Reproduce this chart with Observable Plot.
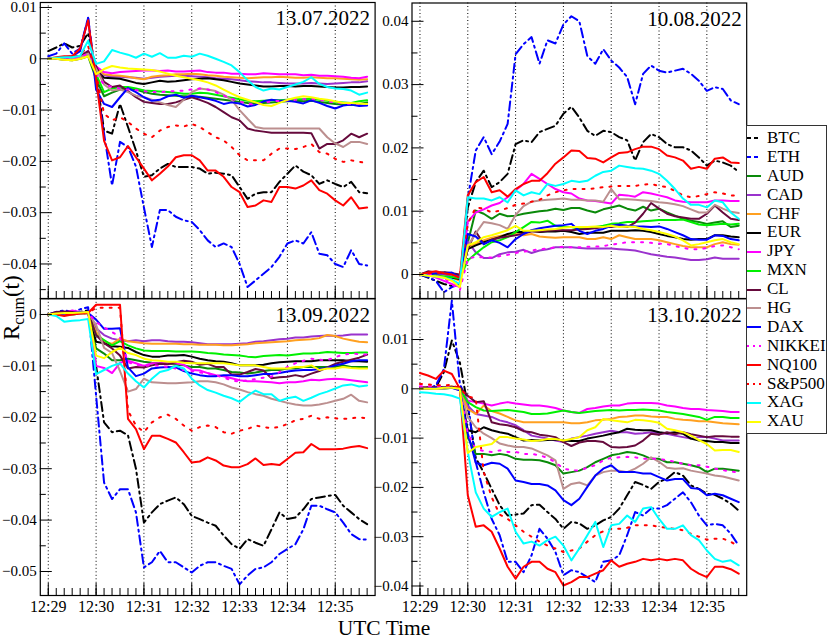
<!DOCTYPE html>
<html><head><meta charset="utf-8">
<script src="https://cdn.jsdelivr.net/npm/d3@7"></script>
<script src="https://cdn.jsdelivr.net/npm/@observablehq/plot@0.6"></script>
<style>
body{margin:0;background:#fff;}
#wrap{position:relative;width:830px;height:638px;background:#fff;font-family:"Liberation Serif",serif;overflow:hidden;}
.panel{position:absolute;}
#legend{position:absolute;left:746px;top:125px;width:81px;height:309px;border:1.5px solid #333;background:#fff;box-sizing:border-box;padding-top:3px;}
.row{height:18.9px;display:flex;align-items:center;font-family:"Liberation Serif",serif;font-size:17px;line-height:18.9px;color:#000;}
.row svg{width:14px;height:10px;margin-right:6px;flex:none;}
</style></head><body><div id="wrap"></div>
<script>
// ---- tick labels / categories ----
const timeLabels = ["12:29","12:30","12:31","12:32","12:33","12:34","12:35"];
const minuteTicks = [0,60,120,180,240,300,360]; // seconds after 12:29:00
const seriesNames = ["BTC","ETH","AUD","CAD","CHF","EUR","JPY","MXN","CL","HG","DAX","NIKKEI","NQ100","S&P500","XAG","XAU"];
const dates = ["13.07.2022","10.08.2022","13.09.2022","13.10.2022"];
// values: cumulative return in units of 1e-3, every 10 s from 12:29:00 to 12:35:40

// ---- 13.07.2022 ----
const jul_BTC = [1.5,2.2,3,2.2,2.5,5,-3,-14,-14.6,-8.8,-13.3,-17.9,-23,-22.7,-21.4,-20.5,-21.1,-21.1,-21.1,-21.4,-22.4,-22.2,-22.4,-22.7,-25,-27.3,-26.3,-26,-26,-24,-22.4,-20.8,-22,-22.7,-24.4,-23.7,-24.4,-25,-24,-26,-26.2];
const jul_ETH = [0.5,1,3,1,2,8,-4,-14.6,-24.7,-16.2,-17.2,-21,-29,-36.7,-29.5,-29.5,-30.8,-31.5,-31.8,-33.4,-35.4,-36.7,-36,-36.7,-40,-44.5,-43.2,-41.9,-40.6,-38.6,-36,-35.4,-36,-33.8,-38,-38.3,-40,-40.6,-37.3,-40,-40.3];
const jul_AUD = [0,0,-0.2,-0.3,0,0.5,-4,-7.3,-6.6,-6,-5.7,-6,-6.5,-6.8,-7,-7.1,-7.2,-7.3,-7.3,-7.4,-7.6,-7.8,-8,-8.2,-8.4,-8.6,-8.7,-8.6,-8.5,-8.4,-8.3,-8.2,-8.3,-8.2,-8.4,-8.6,-8.8,-8.9,-9,-8.8,-8.5];
const jul_CAD = [0,0,0,0,0.3,1,-1.5,-3.2,-3.5,-3.5,-3.6,-3.7,-3.9,-3.7,-3.5,-3.4,-3.3,-3.3,-3.4,-3.5,-3.6,-3.8,-3.9,-4,-4.2,-4.4,-4.5,-4.6,-4.6,-4.7,-4.8,-4.8,-4.8,-4.7,-4.8,-4.9,-4.8,-4.7,-4.6,-4.6,-4.4];
const jul_CHF = [0,0,-0.2,-0.3,0,0.5,-1.5,-3,-3.2,-3.3,-3.5,-3.8,-4,-3.5,-3.3,-3.2,-3,-3,-2.9,-3,-3.2,-3.3,-3.5,-3.6,-3.7,-3.8,-3.7,-3.6,-3.6,-3.5,-3.6,-3.7,-3.7,-3.6,-3.7,-3.8,-3.8,-3.9,-4,-4.1,-4];
const jul_EUR = [0,0,0,0,0.2,1,-2.3,-3.7,-3.8,-3.9,-4.3,-4.7,-4.9,-4.6,-4.3,-4.5,-4.4,-4.2,-4,-3.9,-3.8,-4,-4.2,-4.5,-4.8,-5,-5.2,-5.4,-5.4,-5.3,-5.3,-5.4,-5.3,-5.3,-5.4,-5.5,-5.6,-5.6,-5.5,-5.5,-5.4];
const jul_JPY = [0,0,0,0,0.2,1.5,-1.5,-2.6,-2.8,-2.6,-2.5,-2.4,-2.3,-2.3,-2.4,-2.3,-2.5,-2.5,-2.4,-2.3,-2.6,-2.7,-2.7,-2.9,-2.9,-3,-3,-2.8,-2.9,-3,-3,-3,-3.2,-3.1,-3.3,-3.3,-3.4,-3.5,-3.7,-3.8,-3.5];
const jul_MXN = [0,0,0,0,0.2,1,-3,-6.5,-5.8,-5.5,-5.5,-5.8,-6.2,-6.3,-6.4,-6.5,-6.6,-6.8,-6.8,-6.6,-6.7,-7,-7.3,-7.6,-7.9,-8.2,-8.3,-8.2,-8.1,-8.1,-8,-7.9,-7.9,-7.8,-8,-8.2,-8.4,-8.5,-8.6,-8.3,-8.1];
const jul_CL = [0,0,0.2,0.2,0.5,1.5,-1.5,-4.5,-5.5,-5.2,-6.3,-7.5,-8.4,-8.6,-8.8,-8.8,-8.5,-8,-7.5,-8,-8.6,-9.4,-10.4,-11.4,-12,-13.6,-14,-14.2,-14.4,-14.4,-14.4,-14.4,-14.4,-14.5,-17.5,-16.6,-16.6,-15.9,-14.6,-15.3,-14.6];
const jul_HG = [0,0,0,0,0.3,1,-2,-5,-6.2,-6,-6.5,-7.2,-7.5,-8,-8.5,-9,-9.4,-8,-6.5,-5.8,-6,-6.3,-7,-8,-10,-11.7,-13.3,-13.6,-13.6,-13.6,-13.6,-13.6,-13.6,-13.6,-13.6,-15.3,-16.5,-17.2,-16.2,-16.2,-16.6];
const jul_DAX = [0,0,0.3,0.5,1.5,8,-6,-8.8,-9.4,-7.5,-5.7,-6.5,-7.5,-8.2,-8,-7.3,-7,-7.6,-7.2,-7.5,-7.8,-8.2,-8.8,-8.5,-8.7,-9.3,-9,-8.3,-8,-8.2,-8.2,-8.4,-8.7,-8.1,-8.6,-9.2,-9.7,-9.1,-8.9,-9.2,-9.1];
const jul_NIKKEI = [0,0,0,0,0.3,1,-3,-5,-5.5,-5.8,-6,-6.1,-6.3,-6.5,-6.5,-6.4,-6.3,-6.2,-6,-5.8,-6,-6.5,-7.2,-7.8,-8.3,-8.8,-8.9,-8.6,-8.3,-8.2,-8.1,-8,-7.9,-7.8,-8,-8.3,-8.5,-8.7,-8.8,-8.8,-8.8];
const jul_NQ100 = [0,0.3,0.5,0.5,2,7.5,-4,-16,-19.8,-19.2,-17,-19.2,-21.4,-23.7,-22.4,-21,-19.2,-18.8,-18.8,-19.8,-21.8,-21.8,-23,-25,-26,-28.9,-28.6,-27.6,-27.9,-25,-25,-25.3,-24.7,-23.7,-25.6,-26.3,-27.6,-28.6,-27,-29.2,-29];
const jul_SP500 = [0,0.2,0.3,0.3,0.8,2.5,-3,-10.7,-12,-11.4,-12.3,-13.6,-14.6,-15.3,-14,-13.3,-13,-13.2,-12.7,-13.3,-14.3,-15.3,-15.9,-17.2,-18.8,-19.8,-19.8,-19.8,-18.5,-17.5,-17.5,-17.6,-17.2,-16.6,-18.2,-18.5,-19.5,-20.1,-19.8,-20.1,-20.3];
const jul_XAG = [0,0.2,0.3,0.3,0.6,3.5,-1,-0.5,1.7,1.2,0.8,0.2,1,0.4,1.1,0.2,0.2,0.6,0.4,1,0.6,0,-0.6,-1.3,-2.6,-4.2,-5.5,-6.2,-5.8,-6,-5.5,-5,-4.5,-3.6,-4.9,-5.5,-5.8,-5.9,-6.2,-7,-6.6];
const jul_XAU = [0,0,-0.2,-0.3,0,0.5,-3,-2,-1.4,-1.7,-1.9,-2,-2.1,-2.2,-2.5,-2.9,-3.3,-3.6,-3.9,-4.2,-4.6,-5.2,-6,-6.8,-7.5,-8,-8.5,-9,-9.2,-8.6,-8,-7.6,-7.3,-7.5,-7.8,-8,-8.3,-8.6,-8.6,-8.7,-8.8];

// ---- 10.08.2022 ----
const aug_BTC = [0,-0.5,-1,-1.5,-1.8,-1.5,10.6,14.6,16.4,13.8,14.6,15.9,20.6,21.2,20.9,22.5,23,23.5,25.4,26.5,24.8,22.7,21.9,22.7,22.5,21.7,21.2,18,20.9,22.2,21.7,20.6,20.1,20.1,19.6,18.5,17.2,18,17.7,17.2,16.2];
const aug_ETH = [0,-0.4,-1,-2.8,-2,-1.5,12,19.6,21.7,19,21,23.8,34.8,36.4,37.5,33.3,37,36.5,39.5,40.8,40,34.5,33.3,35.6,33.8,32.7,31.2,26.9,31.7,33,32.2,31.9,32.2,32.5,31.7,30.6,29,29.6,29.3,27.5,26.9];
const aug_AUD = [0,0.3,0,0.2,0,-0.3,5,10.1,9.6,8.8,9.6,9.2,9.3,9.6,9.8,10,10.1,10.4,10.2,10.5,10.5,10.1,9.8,10.3,10.6,10.9,10.4,10.1,10.7,10.1,10.4,9.8,9.3,8.8,8.5,8.3,8,8.2,8.4,7.5,7.7];
const aug_CAD = [0,0.3,0.2,0,-0.3,-0.8,5.2,3.5,2.6,2.6,3.2,3.5,3.6,3.9,3.4,3.8,4,4.3,4.3,4.3,4.2,4.1,4.1,4.1,4.1,4,3.9,3.8,3.5,3.2,3,2.8,2.7,2.5,2.3,2.3,2.4,2.7,2.5,2.5,2.5];
const aug_CHF = [0,0,-0.2,-0.3,-0.5,-1,4.3,4.9,5.4,5.8,6.1,6.3,6.4,6.2,6.4,6,5.9,5.8,5.9,5.9,5.9,5.6,5.6,5.9,5.6,6.2,5.9,5.6,5.6,5.6,5.4,5.1,4.8,4.5,4.3,4.3,4.3,4.8,5.1,4.8,4.7];
const aug_EUR = [0,-0.2,-0.3,-0.4,-0.5,-0.7,4,4.6,5.1,5.5,5.9,6.4,6.7,6.7,6.9,6.7,6.8,6.8,6.9,6.7,6.4,6.6,6.6,6.6,6.9,6.9,6.9,7,6.9,6.7,6.4,6.1,5.9,5.6,5.5,5.6,5.6,6.2,6.2,6,5.9];
const aug_JPY = [0,0,-0.5,-1,-1.5,-2,8.3,9.8,10.3,10.9,11.3,12.2,13.3,14.3,15.9,15.1,14.3,13.5,13,12.8,12,11.7,11.6,11.4,11.2,12.6,12.5,12.3,13,12.8,12.5,12.2,11.7,11.5,11.4,11.4,11.4,11.7,11.7,11.6,11.6];
const aug_MXN = [0,0,-0.2,-0.3,-0.4,-0.6,2.2,3.3,4.3,5.1,5.4,5.9,6.7,7.5,8.3,8.2,8.5,7.7,7.5,7.5,7.2,7.2,7.5,7.7,8,8.1,8.3,8.3,8.4,8.5,8.6,8.6,8.6,8.7,8.3,7.9,7.8,7.9,8,7.9,8];
const aug_CL = [0,0.5,0.3,0.4,0.2,0,4,6.8,4.8,5.5,5.8,6,6.2,6.5,6.8,6.8,6.9,7,7,7,7.1,7.2,7.3,7.5,7.5,7.7,7.5,8.2,9.6,11.3,10.4,9.6,9.2,9,8.8,8.8,9.6,10.9,9.8,8.8,8.6];
const aug_HG = [0,0.2,0.3,0.3,0,-0.5,4.5,6.5,8.3,8.1,7.8,7.2,9.4,10.8,11.5,11.7,11.8,11.9,12,11.8,11.8,11.7,11.7,11.5,13.5,11.9,11.9,11.8,11.7,11.6,11.4,11.3,11.1,10.8,10.3,9.8,9.8,11,10.4,9.9,9.7];
const aug_DAX = [0,0,0.2,0.2,0.3,-0.5,6.4,6,4.8,5.4,5,4.3,5.6,6.4,7,7.3,7.5,7.7,7.8,8,6.9,6.4,6.9,7.2,7.7,7.9,7.7,7.6,7.6,7.5,7.6,7.2,6.7,6.2,5.6,5.5,5.5,6.2,6.1,5.6,5.4];
const aug_NIKKEI = [0,0,-0.2,-0.5,-1.5,-2.5,2.5,2.8,2.7,2.7,2.9,3.1,3.4,3.6,3.8,4,4.1,4.3,4.4,4.3,4.3,4.4,4.4,4.5,4.7,4.9,5.1,5.1,5.1,5,4.9,4.8,4.5,4.2,4,4,4.2,4.5,4.6,4.3,4];
const aug_NQ100 = [0,0.3,0.5,0.2,0,-0.5,12.5,14.6,15.4,13,13.3,12.3,13.5,14.3,14.8,14.8,16,17.5,18.5,19.6,19.5,18.4,18.3,17.7,18.5,19.2,19.3,19.8,20.2,20.2,19.8,18.8,18.5,18,16.7,17,16.7,18.3,18.5,17.7,17.6];
const aug_SP500 = [0,0.2,0.3,0.2,0,-0.5,8,10.6,10.4,9.8,10.1,10.5,11,11.2,11.5,11.8,12.5,13,13.3,13.5,13.5,13.5,13.6,13.8,13.9,14,14,14,14.2,14.3,14,13.8,13.2,12.5,12.2,12.4,12.7,13,12.8,12.5,12.5];
const aug_XAG = [0,-0.2,-0.3,-0.5,-0.8,-1.5,12.2,12,12,11.7,12.2,11.4,13.3,12.5,13,12.7,14.3,14,14.3,14.8,14.6,14.8,15.6,16.2,16.4,17.2,17,16.8,16.7,16.4,15.9,14.8,13.5,12,11,11,10.6,11.7,11.4,9.8,8.8];
const aug_XAU = [0,-0.2,-0.3,-0.5,-1,-2,4.6,5.1,5.9,6.2,6.6,7,7.7,6.9,6.9,7,7.1,7.2,7.4,7.5,7.5,7.5,7.6,7.5,7.7,7.5,7.6,7.5,7.2,7,6.7,6.4,6,5.4,4.6,4.8,5.1,5.4,5.6,5.1,4.8];

// ---- 13.09.2022 ----
const sep_BTC = [0,0.3,0.5,0.3,0.5,0.8,-10,-21,-22.9,-22.6,-23.5,-30,-40.5,-38.5,-36.9,-36.2,-35.6,-36.9,-39.2,-39.8,-40.5,-41.1,-43,-44.7,-45.6,-43.7,-44.4,-45,-41.8,-38.5,-39.8,-39.5,-37.9,-35.9,-35.6,-35.3,-35.1,-37.2,-38.5,-39.8,-40.8];
const sep_ETH = [0,0.5,0.8,0.5,1,1.4,-15.8,-32.7,-35.9,-34,-34,-38.5,-49.2,-48.2,-46,-48.2,-48.2,-49.2,-50.2,-48.9,-48.2,-48.2,-48.9,-49.5,-52.5,-50.8,-49.5,-49.2,-48.2,-46.6,-45.6,-44.7,-41.8,-37.2,-37.2,-37.9,-38.5,-40.5,-42.7,-43.7,-43.8];
const sep_AUD = [0,0.2,0.3,0.2,0.3,0.3,-6.6,-7.6,-8.9,-8.9,-8.6,-8.9,-9.2,-9.4,-9.5,-9.5,-9.8,-9.9,-10.2,-10.2,-10.5,-10.5,-10.8,-11.2,-11.3,-11.5,-11.3,-11,-10.8,-10.8,-10.5,-10.5,-10.2,-10.2,-10.2,-10.2,-10.2,-9.9,-10.2,-10.2,-10.2];
const sep_CAD = [0,0.2,0.3,0.2,0.3,0.3,-2.7,-4,-4.7,-5,-5.2,-5,-5.2,-5,-5,-5.2,-5.3,-5.3,-5.4,-5.6,-5.8,-5.8,-5.8,-5.8,-5.7,-5.6,-5.3,-5.2,-5,-4.8,-4.7,-4.5,-4.5,-4.3,-4.2,-4.1,-4.2,-4.1,-3.9,-3.9,-3.9];
const sep_CHF = [0,0,0,0,0.2,0.3,-3.4,-5.3,-5.7,-4.7,-5.2,-5.4,-5.6,-5.7,-5.7,-5.7,-5.7,-5.8,-5.8,-5.9,-5.9,-5.9,-6,-6,-5.9,-5.8,-5.6,-5.5,-5.4,-5.3,-5.2,-5,-4.9,-4.8,-4.6,-4,-4.2,-4.7,-5,-5.3,-5.4];
const sep_EUR = [0,0.2,0.2,0.3,0.3,0.3,-5.3,-5.6,-6.2,-6.3,-6.5,-7.3,-7.9,-8.2,-8.2,-8,-8,-7.9,-8.2,-8.6,-8.9,-9.1,-9.2,-9.5,-9.9,-9.9,-9.9,-9.8,-9.5,-9.3,-9.2,-9.1,-9.1,-9.1,-8.9,-8.9,-8.9,-8.9,-9.1,-9.1,-9.2];
const sep_JPY = [0,0,0.3,0.8,0.5,0.3,-10,-10.4,-11.4,-9.4,-9,-9.5,-10,-9.5,-9.5,-9.5,-9.5,-9.8,-10.8,-10.9,-11.4,-11.8,-12,-12.4,-12.8,-13,-13,-13.1,-13.2,-13.4,-13.2,-13.2,-13,-12.7,-12.8,-12.6,-12.5,-12.6,-12.8,-13,-13.2];
const sep_MXN = [0,0,0,0,0.2,0.3,-4,-5,-6,-5.2,-6,-6.6,-7,-7.1,-7.1,-7.1,-7.2,-7.2,-7.2,-7.3,-7.5,-7.6,-7.8,-7.9,-8,-8.2,-8.3,-8.1,-8,-7.9,-8,-7.8,-7.6,-7.6,-7.5,-7.3,-7.4,-7.5,-7.5,-7.4,-7.4];
const sep_CL = [0,0.5,0.6,0.5,0.3,0.3,-4,-5.6,-6.6,-8,-10.5,-10.2,-10.3,-9.9,-9.6,-9.7,-9.3,-9,-9.2,-9.8,-9.6,-10.2,-10.2,-11.7,-11.7,-11.2,-10.6,-10.9,-12.4,-12.2,-12.1,-11.8,-12.1,-11.5,-11,-10.3,-9.6,-9.2,-8.8,-8.4,-7.8];
const sep_HG = [0,0,0,0,0.2,0.3,-2,-6.5,-7.5,-11,-15,-14.5,-12.5,-13.2,-13.3,-13.4,-13.4,-13.3,-13.2,-13,-13,-13.2,-13.6,-14.2,-14.6,-15.1,-15.5,-15.8,-16.4,-16.8,-17.2,-17.5,-17.7,-17.7,-17.5,-17.2,-16.8,-16.4,-15.6,-16.8,-17.1];
const sep_DAX = [0,0,0.2,0.3,0.5,0.3,-1,-2.8,-2.8,-2.7,-10.3,-12,-11.5,-10.5,-10.3,-10.2,-10.3,-11,-11.5,-11.8,-12,-12,-11.8,-11.8,-12,-12,-11.8,-11.6,-11.6,-11.4,-11.1,-10.9,-10.8,-10.8,-10.6,-10.4,-9.9,-9.6,-9.1,-8.9,-8.9];
const sep_NIKKEI = [0,0,0,0,0.2,0.3,-1.5,-2.5,-3.4,-4.4,-9.3,-9.8,-10,-9.9,-10,-10.2,-10.5,-10.8,-11,-11.3,-11.5,-11.8,-12.3,-12.8,-13.1,-12.8,-12.6,-12.3,-12.1,-11.2,-10.2,-9.5,-9,-8.6,-8.8,-8.9,-8.3,-7.8,-7.6,-7.7,-7.8];
const sep_NQ100 = [0,0,-0.3,0,0.2,0.3,1.9,1.9,1.9,1.9,-20.3,-22.3,-26.2,-23.6,-23.6,-24.2,-24.9,-26.8,-28.8,-28.6,-27.8,-28.4,-29.4,-29.7,-29.7,-29.1,-28,-29.3,-29.1,-29.3,-28.1,-26.9,-26.8,-25.2,-26.2,-26.2,-26.2,-26.1,-25.8,-25.6,-26];
const sep_SP500 = [0,0,0,0,0.2,0.3,1.3,1.3,1.3,1.3,-18.7,-21.6,-22.9,-21,-20,-19.5,-20.3,-21.6,-22.6,-21.9,-21.6,-21.9,-22.9,-23.2,-22.6,-22.3,-21.6,-21.9,-22.1,-21.9,-21.3,-20.6,-20.3,-19.7,-20.3,-20,-20.2,-20.3,-20.2,-20,-20.2];
const sep_XAG = [0,-0.3,-1.4,-1.2,-1.1,-0.9,-11.6,-10.8,-10,-9.5,-11.5,-13,-14.2,-12.5,-11.2,-10.8,-10,-10.5,-12.5,-13.8,-14.7,-15.2,-15.8,-16.3,-17,-15.8,-14.8,-15.5,-15.5,-16.8,-16.3,-16,-16.8,-16.2,-15.5,-15,-14.4,-13.8,-13.6,-14,-13.8];
const sep_XAU = [0,0.2,0.3,0.3,0.4,0.5,-8,-8.5,-7.3,-6.5,-7.5,-7.9,-8.6,-8.9,-9,-9.2,-9.2,-9.4,-9.5,-9.5,-9.5,-9.5,-9.5,-9.7,-9.9,-9.9,-9.9,-10.2,-10.5,-10.5,-10.5,-10.2,-10.2,-9.9,-10.8,-10.5,-10.5,-10.2,-10.4,-10.5,-10.5];

// ---- 13.10.2022 ----
const oct_BTC = [0,0,0.3,3.4,9.8,5.4,-3.4,-14,-17,-20.3,-23.6,-25.7,-25.5,-25.3,-23.6,-23.5,-25,-26.4,-28.4,-27,-27.3,-28.4,-27.7,-26.7,-26,-24.3,-21.6,-18.9,-19.5,-20.3,-18.9,-18.2,-16.9,-17.6,-19.6,-20.3,-21.3,-21.5,-22.3,-23.3,-24.7];
const oct_ETH = [0,0,0.7,4,17.9,1,-2.7,-14.9,-21,-26.4,-29.7,-35.1,-35.1,-37.2,-33.8,-28.4,-30.4,-33.1,-37.8,-36.8,-37.2,-38.2,-39.2,-35.1,-34.8,-33.8,-29.7,-25,-25.7,-24.3,-24.3,-23.6,-22.3,-21,-23,-25.7,-27.7,-27.4,-27.7,-29.4,-31.8];
const oct_AUD = [0,0.2,0.2,0.2,0.3,0,-9.8,-13.2,-13.2,-13.5,-13.2,-13.5,-14.2,-14.4,-14.4,-14.5,-14.9,-15.5,-17.2,-16.9,-16.6,-15.9,-14.9,-14.2,-13.5,-13.2,-12.8,-13,-13.5,-14.2,-14.2,-14.9,-14.9,-15.2,-15.5,-15.9,-16.9,-16.2,-16.2,-16.4,-16.6];
const oct_CAD = [0,0.2,0.2,0.3,0.3,0,-3.4,-5.1,-5.4,-5.7,-6.4,-6.8,-7.4,-8.4,-9.5,-9.8,-10.1,-10.5,-10.8,-10.1,-9.8,-9.5,-9.1,-8.8,-8.5,-8.8,-8.8,-9.1,-9,-8.8,-9,-9.1,-9.5,-9.8,-10.1,-9.8,-9.8,-10.1,-10.5,-10.5,-10.5];
const oct_CHF = [0,0.2,0.2,0.3,0.5,-0.3,-4.1,-5.1,-3.4,-4.5,-5,-5.7,-6.4,-6.8,-6.8,-6.8,-6.8,-6.8,-6.8,-7,-7,-6.8,-6.4,-6.3,-6.1,-5.7,-5.6,-5.4,-5.4,-5.6,-5.7,-5.7,-6.1,-6.3,-6.4,-6.6,-6.6,-6.8,-7,-7.1,-7.2];
const oct_EUR = [0,0.2,0.2,0.2,0.3,0,-8.4,-8.8,-7.8,-8.4,-8.8,-9.1,-9.8,-10.5,-10.4,-10.5,-10.4,-10.3,-10.5,-10.6,-10.6,-10.1,-9.8,-9.5,-9.1,-8.8,-8.1,-8.3,-8.4,-8.4,-8.8,-9,-8.8,-9.1,-10.1,-10.5,-10.6,-10.8,-10.8,-11,-11];
const oct_JPY = [0,0.2,0.2,0.2,0.3,0,-2.4,-2.7,-3,-3.4,-3,-2.7,-3,-3.2,-3.4,-3.4,-3.6,-3.9,-4.4,-4.7,-4.9,-4.1,-3.9,-3.6,-3.4,-3.4,-3,-2.9,-2.9,-2.9,-3,-3.4,-3.6,-3.9,-4.1,-4.1,-4.3,-4.4,-4.5,-4.7,-4.7];
const oct_MXN = [0,0,0,0,0.2,0,-2.7,-3.7,-4.4,-4.5,-4.4,-4.3,-4.5,-4.7,-5.1,-5.1,-5,-4.7,-4.4,-4.7,-4.9,-4.7,-4.5,-4.4,-4.3,-4.4,-4.3,-4.3,-4.2,-4.3,-4.4,-4.7,-4.9,-5.1,-5.4,-5.7,-6.3,-5.7,-5.7,-5.9,-5.9];
const oct_CL = [0.3,0.3,0.3,0.3,0.4,0.3,-1.4,-2.7,-2.5,-6.8,-7.2,-7.4,-7.8,-8.6,-8.8,-9.3,-9.5,-9.8,-10.8,-11.6,-10.9,-10.6,-10.6,-10.8,-11.8,-11.9,-11.8,-11.5,-10.5,-9.1,-9.3,-8.8,-9.2,-8.8,-9.2,-9.5,-9.8,-9.6,-9.6,-9.7,-9.7];
const oct_HG = [0,0,0,0,0.2,-0.3,-5.7,-7.8,-9.1,-10,-11.1,-11.5,-11.8,-11.8,-12.1,-12.8,-13.5,-14.5,-20.3,-19.3,-19,-19.6,-17.6,-16.9,-16.6,-16.6,-16.9,-16.2,-15.2,-13.9,-14.8,-16,-16.2,-16.1,-16.6,-16.9,-17.2,-17.6,-17.8,-18.2,-18.6];
const oct_DAX = [0,0,0.2,0.2,0.2,-0.3,-9,-15,-15.5,-15,-15.2,-16.2,-18.6,-18.9,-19.3,-19.3,-19.6,-20.6,-22.6,-23.6,-22.3,-19.9,-17.6,-16.2,-15.5,-16.9,-16.9,-16.9,-17.2,-17.2,-17.9,-18.6,-18.3,-18.3,-20.1,-20.3,-21.6,-21.3,-21.6,-22.3,-23];
const oct_NIKKEI = [0.5,0.5,0.5,0.3,0.3,0,-9,-12.2,-12.6,-12.8,-12.5,-12.8,-12.8,-13.2,-13.2,-13.5,-14,-14.9,-16.2,-16.5,-16.6,-16,-15.5,-14.5,-14,-13.9,-13.8,-13.9,-14.2,-14.2,-14.2,-14.5,-14.8,-15.2,-15.5,-15.5,-15.8,-16.2,-16.5,-16.8,-16.9];
const oct_NQ100 = [3.2,2.7,2,3.7,3,0,-21.6,-28,-27.7,-29,-32.4,-36.1,-38.5,-36.1,-35.1,-35.1,-36.5,-37.2,-39.9,-39.2,-38.2,-38.2,-37.5,-36.8,-34.8,-36.1,-35.5,-35.1,-34.5,-34.8,-34.5,-34.8,-34.5,-34.8,-36.5,-37.5,-38.2,-36.1,-36.1,-36.6,-37.5];
const oct_SP500 = [1,0.9,0.7,0.7,0.8,0,-1.5,-2,-16.9,-22,-25.5,-26.4,-27.7,-29,-30,-31,-31.8,-32.4,-33.1,-32.8,-32.4,-31,-29.7,-28.9,-28.4,-28.4,-28.2,-27.7,-27.7,-27.7,-28,-28.2,-28.4,-28.7,-29.4,-30,-30.6,-30.4,-30.4,-31,-32.1];
const oct_XAG = [-0.7,-0.8,-1,-1.1,-1.4,-2,-12.8,-21,-24.3,-26,-25,-24.3,-29,-31.4,-31,-31.8,-30.7,-30,-31.8,-34.8,-32.4,-29.7,-27,-32.1,-27.7,-27.4,-25.7,-27,-24.3,-24,-26.4,-28.4,-28.4,-27.7,-29.7,-30.7,-32.8,-34.5,-35.1,-34.8,-35.8];
const oct_XAU = [0,0,0,0.2,0.2,0,-13,-11.8,-11.5,-11.2,-9.8,-9.8,-10.1,-10.3,-10.6,-10.5,-10.2,-10.2,-10.5,-10.2,-9.8,-8.4,-7.8,-6.1,-6.4,-6.6,-6.8,-6.3,-6.4,-6.6,-6.9,-8.1,-8.4,-8.8,-9.5,-10.4,-11.2,-12.5,-12.4,-12.4,-12.8];

// ---- assemble (tables for the library) ----
const panelData = [
  [jul_BTC,jul_ETH,jul_AUD,jul_CAD,jul_CHF,jul_EUR,jul_JPY,jul_MXN,jul_CL,jul_HG,jul_DAX,jul_NIKKEI,jul_NQ100,jul_SP500,jul_XAG,jul_XAU],
  [aug_BTC,aug_ETH,aug_AUD,aug_CAD,aug_CHF,aug_EUR,aug_JPY,aug_MXN,aug_CL,aug_HG,aug_DAX,aug_NIKKEI,aug_NQ100,aug_SP500,aug_XAG,aug_XAU],
  [sep_BTC,sep_ETH,sep_AUD,sep_CAD,sep_CHF,sep_EUR,sep_JPY,sep_MXN,sep_CL,sep_HG,sep_DAX,sep_NIKKEI,sep_NQ100,sep_SP500,sep_XAG,sep_XAU],
  [oct_BTC,oct_ETH,oct_AUD,oct_CAD,oct_CHF,oct_EUR,oct_JPY,oct_MXN,oct_CL,oct_HG,oct_DAX,oct_NIKKEI,oct_NQ100,oct_SP500,oct_XAG,oct_XAU]
];

// ---- styles ----
const styles = {
  "BTC":{stroke:"#000000",dash:"9,4,2,4"},
  "ETH":{stroke:"#0000ff",dash:"9,4,2,4"},
  "AUD":{stroke:"#0a8a0a"},
  "CAD":{stroke:"#9a32cd"},
  "CHF":{stroke:"#ffa020"},
  "EUR":{stroke:"#000000"},
  "JPY":{stroke:"#ff00ff"},
  "MXN":{stroke:"#00f000"},
  "CL":{stroke:"#660a3c"},
  "HG":{stroke:"#bc8f8f"},
  "DAX":{stroke:"#0000ff"},
  "NIKKEI":{stroke:"#ff00ff",dash:"2,7"},
  "NQ100":{stroke:"#ff0000"},
  "S&P500":{stroke:"#ff0000",dash:"2,7"},
  "XAG":{stroke:"#00ffff"},
  "XAU":{stroke:"#ffff00"}
};
const FONT = "'Liberation Serif', serif";
const tenSec = d3.range(0, 401, 10);
const fmt = d => d === 0 ? "0" : d3.format("~g")(d);
const blank = () => "";

const panels = [
  {left:0, top:0, width:380, height:300, mL:39.8, mR:5.4, mT:2, mB:2, y:[-0.04673,0.01097],
   major:[0.01,0,-0.01,-0.02,-0.03,-0.04], minor:[0.005,-0.005,-0.015,-0.025,-0.035,-0.045], bottom:false},
  {left:380, top:0, width:450, height:300, mL:31.5, mR:83.8, mT:2.5, mB:2, y:[-0.00379,0.04289],
   major:[0,0.01,0.02,0.03,0.04], minor:[0.005,0.015,0.025,0.035], bottom:false},
  {left:0, top:296, width:380, height:342, mL:39.8, mR:5.4, mT:2.3, mB:43, y:[-0.05467,0.00305],
   major:[0,-0.01,-0.02,-0.03,-0.04,-0.05], minor:[-0.005,-0.015,-0.025,-0.035,-0.045], bottom:true},
  {left:380, top:296, width:450, height:342, mL:31.5, mR:83.8, mT:2.3, mB:43, y:[-0.04193,0.01826],
   major:[0.01,0,-0.01,-0.02,-0.03,-0.04], minor:[0.015,0.005,-0.005,-0.015,-0.025,-0.035], bottom:true}
];

const wrap = document.getElementById("wrap");

panels.forEach((p, k) => {
  const lineMarks = seriesNames.map((name, j) => {
    const rows = panelData[k][j].map((v, i) => ({t: i * 10, v: v / 1000}));
    return Plot.line(rows, {x: "t", y: "v", stroke: styles[name].stroke, strokeWidth: 2,
      strokeDasharray: styles[name].dash, strokeLinejoin: "round", clip: true});
  });
  const marks = [
    Plot.ruleX(minuteTicks, {stroke: "#000", strokeWidth: 1, strokeDasharray: "1,2.5"}),
    ...lineMarks,
    Plot.axisY({ticks: p.major, tickSize: 0, tickPadding: 3.5, tickFormat: fmt, fontSize: 15, fontFamily: FONT, label: null}),
    Plot.axisY({ticks: p.major, tickSize: -12, tickFormat: blank, label: null}),
    Plot.axisY({ticks: p.minor, tickSize: -6, tickFormat: blank, label: null}),
    Plot.axisX({ticks: tenSec, tickSize: -7, tickFormat: blank, label: null}),
    Plot.axisX({ticks: minuteTicks, tickSize: -12, tickFormat: blank, label: null}),
    p.bottom ? Plot.axisX({ticks: minuteTicks, tickSize: 0, tickPadding: 5, fontSize: 16, fontFamily: FONT, label: null,
      tickFormat: d => timeLabels[minuteTicks.indexOf(d)]}) : null,
    Plot.frame({stroke: "#000", strokeWidth: 1.2}),
    Plot.text([dates[k]], {frameAnchor: "top-right", text: d => d, textAnchor: "end", lineAnchor: "top",
      dx: -5, dy: 8, fontSize: 21, fontFamily: FONT, fill: "#000"})
  ];
  const chart = Plot.plot({
    width: p.width, height: p.height,
    marginLeft: p.mL, marginRight: p.mR, marginTop: p.mT, marginBottom: p.mB,
    x: {type: "linear", domain: [-10, 410], label: null},
    y: {type: "linear", domain: p.y, label: null},
    style: {background: "transparent", overflow: "visible", fontFamily: FONT, color: "#000"},
    marks
  });
  const div = document.createElement("div");
  div.className = "panel";
  div.style.left = p.left + "px";
  div.style.top = p.top + "px";
  div.appendChild(chart);
  wrap.appendChild(div);
});

// axis titles
const ns = "http://www.w3.org/2000/svg";
const ov = document.createElementNS(ns, "svg");
ov.setAttribute("width", 830); ov.setAttribute("height", 638);
ov.style.position = "absolute"; ov.style.left = "0"; ov.style.top = "0"; ov.style.pointerEvents = "none";
ov.innerHTML = `<text transform="translate(19,340) rotate(-90)" font-family="Liberation Serif, serif" font-size="23" fill="#000">R<tspan font-size="16" dy="5">cum</tspan><tspan dy="-5" font-size="23">(t)</tspan></text>
<text x="384" y="634.5" text-anchor="middle" font-family="Liberation Serif, serif" font-size="21.5" fill="#000">UTC Time</text>`;
wrap.appendChild(ov);

// legend
const leg = document.createElement("div");
leg.id = "legend";
seriesNames.forEach(name => {
  const row = document.createElement("div");
  row.className = "row";
  const st = styles[name];
  row.innerHTML = `<svg viewBox="0 0 14 10"><line x1="0" y1="5" x2="14" y2="5" stroke="${st.stroke}" stroke-width="2" ${st.dash ? `stroke-dasharray="${name==="BTC"||name==="ETH" ? "4,3" : "2,4"}"` : ""}/></svg><span></span>`;
  row.querySelector("span").textContent = name;
  leg.appendChild(row);
});
wrap.appendChild(leg);
</script></body></html>
